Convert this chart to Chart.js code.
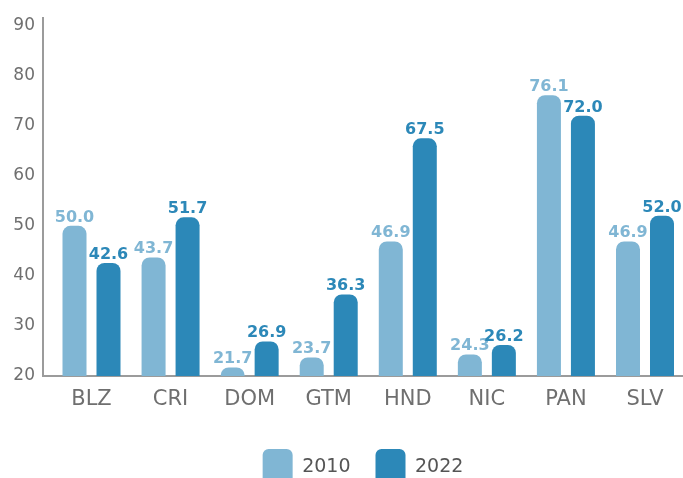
<!DOCTYPE html>
<html>
<head>
<meta charset="utf-8">
<script src="https://cdn.jsdelivr.net/npm/chart.js@4/dist/chart.umd.min.js"></script>
<style>
  html, body { margin: 0; padding: 0; background: #ffffff; overflow: hidden; }
  #wrap { width: 683px; height: 495px; }
</style>
</head>
<body>
<div id="wrap"><canvas id="c" width="683" height="495"></canvas></div>
<script>
const categories = ['BLZ', 'CRI', 'DOM', 'GTM', 'HND', 'NIC', 'PAN', 'SLV'];
const series2010 = [50.0, 43.7, 21.7, 23.7, 46.9, 24.3, 76.1, 46.9];
const series2022 = [42.6, 51.7, 26.9, 36.3, 67.5, 26.2, 72.0, 52.0];
const seriesNames = ['2010', '2022'];
const yTicks = [20, 30, 40, 50, 60, 70, 80, 90];

const COLOR_2010 = '#80b6d4';
const COLOR_2022 = '#2c88b8';
const AXIS_COLOR = '#9b9b9b';
const TEXT_COLOR = '#6f6f6f';
const FONT = '"DejaVu Sans", sans-serif';

// category scale whose value window is shifted a little (first group sits right of the y axis)
class ShiftedCategoryScale extends Chart.CategoryScale {
  configure() {
    super.configure();
    this._startValue = -0.6134;
    this._valueRange = 8.094;
  }
}
ShiftedCategoryScale.id = 'shiftedCategory';
ShiftedCategoryScale.defaults = Chart.CategoryScale.defaults;
Chart.register(ShiftedCategoryScale);

const valueLabels = {
  id: 'valueLabels',
  afterDatasetsDraw(chart) {
    const ctx = chart.ctx;
    chart.data.datasets.forEach((ds, i) => {
      const meta = chart.getDatasetMeta(i);
      meta.data.forEach((bar, j) => {
        ctx.save();
        ctx.font = 'bold 16px ' + FONT;
        ctx.fillStyle = ds.backgroundColor;
        ctx.textAlign = 'center';
        ctx.textBaseline = 'alphabetic';
        ctx.fillText(ds.data[j].toFixed(1), bar.x, bar.y - 4);
        ctx.restore();
      });
    });
  }
};

new Chart(document.getElementById('c'), {
  type: 'bar',
  data: {
    labels: categories,
    datasets: [
      { label: seriesNames[0], data: series2010, backgroundColor: COLOR_2010, borderRadius: 8, borderSkipped: 'start' },
      { label: seriesNames[1], data: series2022, backgroundColor: COLOR_2022, borderRadius: 8, borderSkipped: 'start' }
    ]
  },
  options: {
    responsive: false,
    animation: false,
    layout: { padding: { top: 15, left: 0, right: 0, bottom: 0 } },
    datasets: { bar: { categoryPercentage: 0.86, barPercentage: 0.706 } },
    scales: {
      x: {
        type: 'shiftedCategory',
        offset: false,
        grid: { display: false, drawTicks: false },
        border: { display: true, color: AXIS_COLOR, width: 2 },
        ticks: { color: TEXT_COLOR, font: { family: FONT, size: 21 }, padding: 11, autoSkip: false, maxRotation: 0 },
        afterFit(s) { s.height = 48; }
      },
      y: {
        min: 20,
        max: 91.5,
        grid: { display: false, drawTicks: false },
        border: { display: true, color: AXIS_COLOR, width: 2 },
        ticks: { color: TEXT_COLOR, font: { family: FONT, size: 17 }, padding: 8 },
        afterBuildTicks(axis) { axis.ticks = yTicks.map(v => ({ value: v })); },
        afterFit(s) { s.width = 43; }
      }
    },
    plugins: {
      legend: {
        position: 'bottom',
        fullSize: false,
        labels: {
          boxWidth: 30,
          boxHeight: 36,
          padding: 25,
          color: '#555555',
          font: { family: FONT, size: 19 },
          useBorderRadius: true,
          borderRadius: 6
        }
      },
      tooltip: { enabled: false }
    }
  },
  plugins: [valueLabels]
});
</script>
</body>
</html>
